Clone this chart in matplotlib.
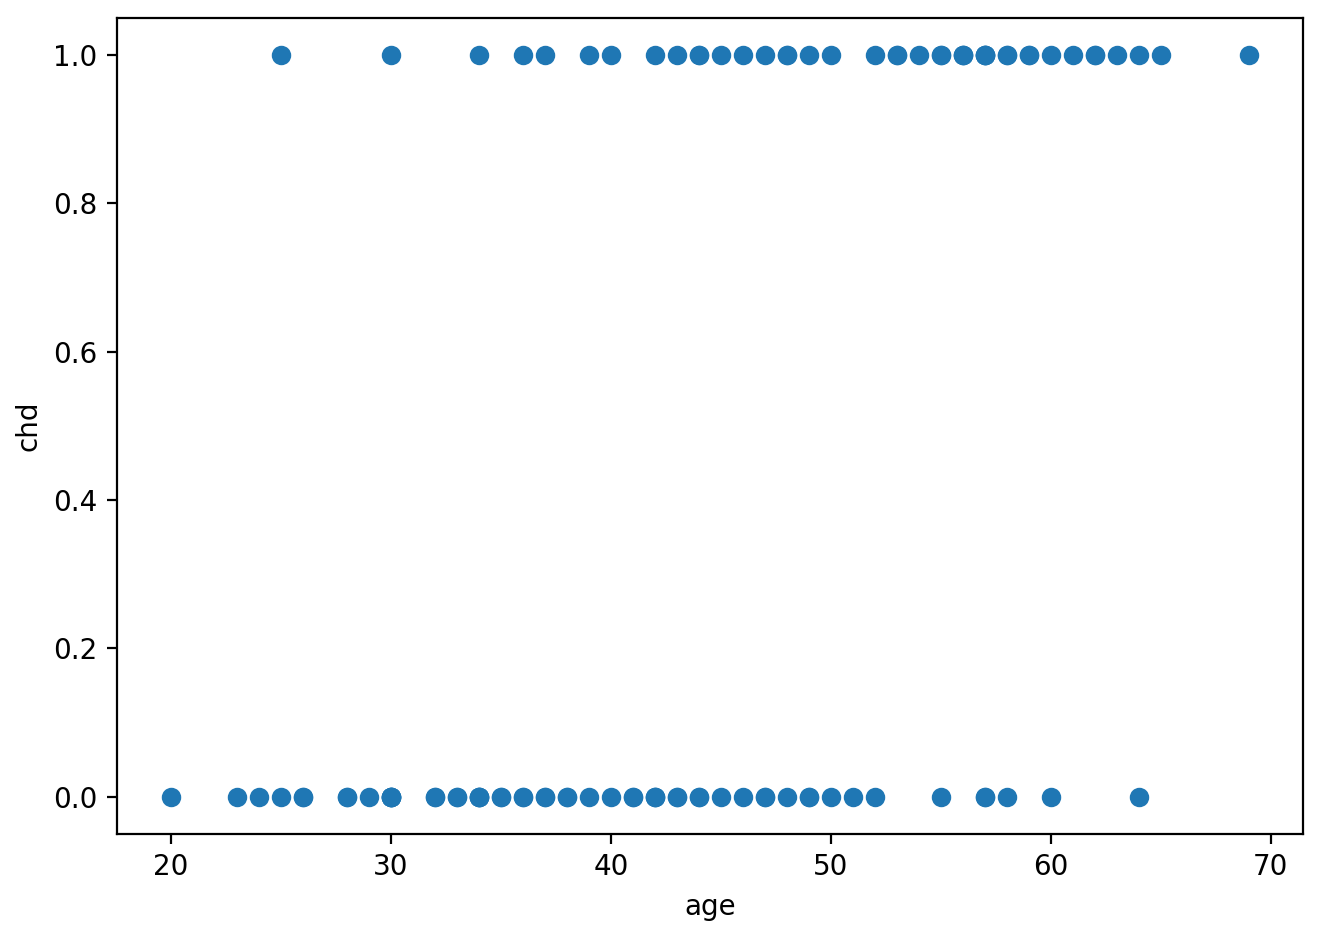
import matplotlib
matplotlib.use("Agg")
import matplotlib.pyplot as plt

# CHD vs age data (100 subjects)
age = [20, 23, 24, 25, 25, 26, 26, 28, 28, 29,
       30, 30, 30, 30, 30, 30, 32, 32, 33, 33,
       34, 34, 34, 34, 34, 35, 35, 36, 36, 36,
       37, 37, 37, 38, 38, 39, 39, 40, 40, 41,
       41, 42, 42, 42, 42, 43, 43, 43, 44, 44,
       44, 44, 45, 45, 46, 46, 47, 47, 47, 48,
       48, 48, 49, 49, 49, 50, 50, 51, 52, 52,
       53, 53, 54, 55, 55, 55, 56, 56, 56, 57,
       57, 57, 57, 57, 57, 58, 58, 58, 59, 59,
       60, 60, 61, 62, 62, 63, 64, 64, 65, 69]
chd = [0, 0, 0, 0, 1, 0, 0, 0, 0, 0,
       0, 0, 0, 0, 0, 1, 0, 0, 0, 0,
       0, 0, 1, 0, 0, 0, 0, 0, 1, 0,
       0, 1, 0, 0, 0, 0, 1, 0, 1, 0,
       0, 0, 0, 0, 1, 0, 0, 1, 0, 0,
       1, 1, 0, 1, 0, 1, 0, 0, 1, 0,
       1, 1, 0, 0, 1, 0, 1, 0, 0, 1,
       1, 1, 1, 0, 1, 1, 1, 1, 1, 0,
       0, 1, 1, 1, 1, 0, 1, 1, 1, 1,
       0, 1, 1, 1, 1, 1, 0, 1, 1, 1]

fig = plt.figure(figsize=(6.61, 4.68), dpi=200)
ax = fig.add_axes([0.0885, 0.109, 0.897, 0.872])
ax.scatter(age, chd)
ax.set_xlabel("age")
ax.set_ylabel("chd")

fig.savefig("out.png", dpi=200)
